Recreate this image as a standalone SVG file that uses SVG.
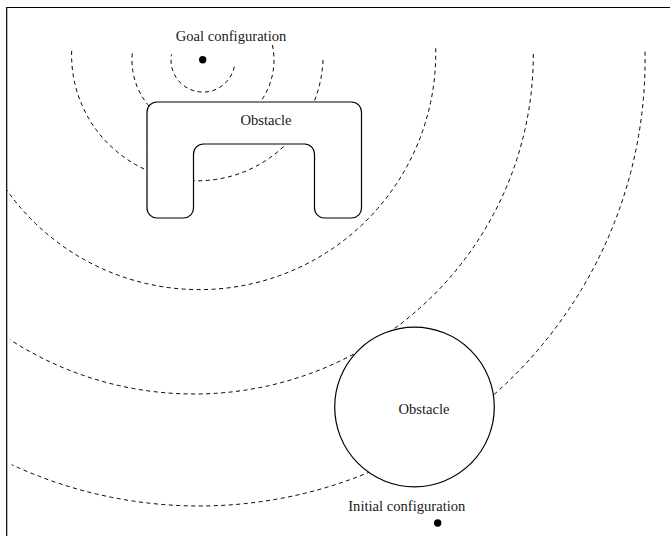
<svg xmlns="http://www.w3.org/2000/svg" width="670" height="536" viewBox="0 0 670 536">
<style>
.frame{fill:none;stroke:#000;stroke-width:1.2}
.wave{fill:none;stroke:#000;stroke-width:1;stroke-dasharray:4 3.5}
.obs{fill:#fff;stroke:#000;stroke-width:1.2}
.lbl{font-family:"Liberation Serif","Times New Roman",serif;font-size:14.6px;fill:#1a1a1a;text-anchor:middle}
.dot{fill:#000}
</style>
<rect width="670" height="536" fill="#fff"/>
<path class="frame" d="M670,7.5 H6.7 V536"/>
<g id="connectors">
<path class="wave" d="M234.3,66.7 A32,32 0 0 1 171.5,54.4"/>
<path class="wave" d="M272.4,45.1 A71,71 0 1 1 132.6,50.7"/>
<path class="wave" d="M323,60 A125.7,125.7 0 1 1 71.7,50"/>
<path class="wave" d="M435.7,48.3 A236.3,236.3 0 0 1 6.7,190"/>
<path class="wave" d="M533.3,54 A339.2,339.2 0 0 1 10,339.7"/>
<path class="wave" d="M645,51.7 A446,446 0 0 1 11.7,464.7"/>
</g>
<g id="obstacle-u">
<path class="obs" d="M147,112 A10,10 0 0 1 157,102 H351.5 A10,10 0 0 1 361.5,112 V208 A10,10 0 0 1 351.5,218 H324.5 A10,10 0 0 1 314.5,208 V154 A10,10 0 0 0 304.5,144 H203.5 A10,10 0 0 0 193.5,154 V208 A10,10 0 0 1 183.5,218 H157 A10,10 0 0 1 147,208 Z"/>
<text class="lbl" x="266" y="124.5">Obstacle</text>
</g>
<g id="obstacle-circle">
<circle class="obs" cx="414.5" cy="407" r="79.8"/>
<text class="lbl" x="424" y="414">Obstacle</text>
</g>
<g id="goal">
<circle class="dot" cx="202.7" cy="59.8" r="3.7"/>
<text class="lbl" x="231" y="40.7">Goal configuration</text>
</g>
<g id="initial">
<circle class="dot" cx="437.7" cy="523" r="3.7"/>
<text class="lbl" x="406.8" y="510.7">Initial configuration</text>
</g>
</svg>
